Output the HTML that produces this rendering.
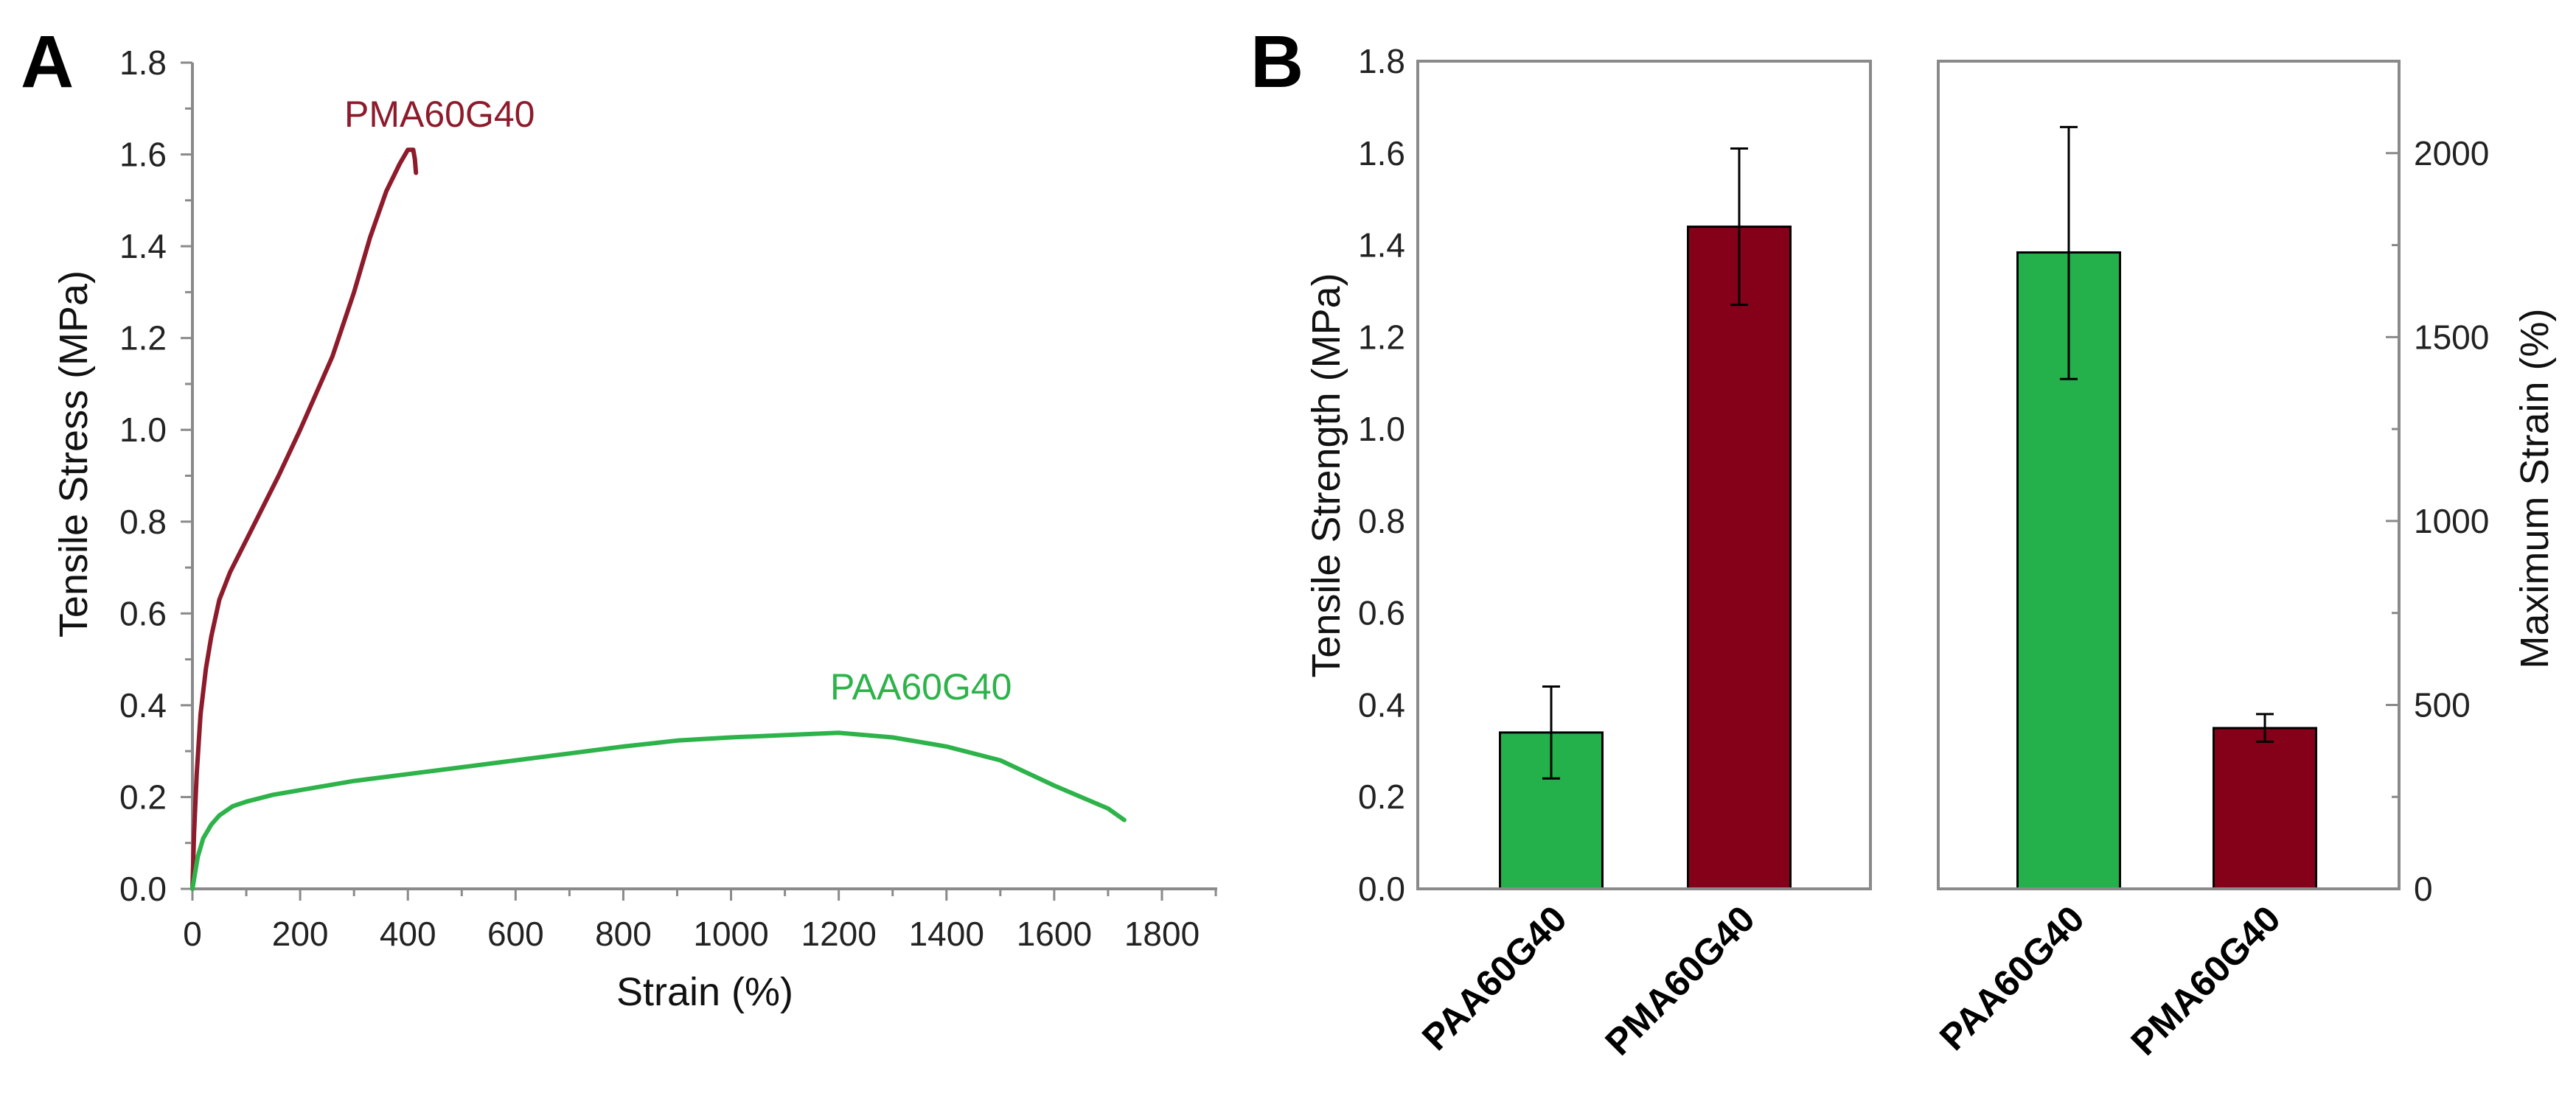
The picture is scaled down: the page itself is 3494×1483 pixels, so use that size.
<!DOCTYPE html>
<html><head><meta charset="utf-8"><style>
html,body{margin:0;padding:0;background:#fff;}
svg{display:block;}
text{font-family:"Liberation Sans",sans-serif;}
</style></head><body>
<svg id="fig" width="3494" height="1483" viewBox="0 0 3494 1483" xmlns="http://www.w3.org/2000/svg">
<g id="pa"></g>
<g id="pb"></g>
</svg>
<script>
// Panel A data
const pmaStrain = [0,3,8,15,25,35,50,70,100,130,160,200,230,260,300,330,360,385,400,410,413,415];
const pmaStress = [0,0.12,0.25,0.38,0.48,0.55,0.63,0.69,0.76,0.83,0.90,1.00,1.08,1.16,1.30,1.42,1.52,1.58,1.61,1.61,1.59,1.56];
const paaStrain = [0,10,20,35,50,75,100,150,200,300,400,500,600,700,800,900,1000,1100,1200,1300,1400,1500,1600,1700,1730];
const paaStress = [0,0.07,0.11,0.14,0.16,0.18,0.19,0.205,0.215,0.235,0.25,0.265,0.28,0.295,0.31,0.323,0.33,0.335,0.34,0.33,0.31,0.28,0.225,0.175,0.15];
const aXTicks = [0,200,400,600,800,1000,1200,1400,1600,1800];
const aYTicks = [0,0.2,0.4,0.6,0.8,1.0,1.2,1.4,1.6,1.8];
// Panel B data
const bCats = ["PAA60G40","PMA60G40"];
const strengthVals = [0.34,1.44];
const strengthLo = [0.24,1.27];
const strengthHi = [0.44,1.61];
const strainVals = [1730,437];
const strainLo = [1386,400];
const strainHi = [2071,475];
const bYTicksL = [0,0.2,0.4,0.6,0.8,1.0,1.2,1.4,1.6,1.8];
const bYTicksR = [0,500,1000,1500,2000];

const NS="http://www.w3.org/2000/svg";
function mk(parent,tag,attrs,txt){const e=document.createElementNS(NS,tag);for(const k in attrs)e.setAttribute(k,attrs[k]);if(txt!==undefined)e.textContent=txt;parent.appendChild(e);return e;}

const GREEN="#24b04b", RED="#850019", AXC="#8a8a8a";
const pa=document.getElementById('pa');
const ax0=261, ax1=1651, ay0=1206, ay1=85;
const ax=v=>ax0+v/1800*(1576-ax0);
const ay=v=>ay0-v/1.8*(ay0-ay1);
let t=mk(pa,'text',{x:28,y:118,'font-size':100,'font-weight':'bold',fill:'#000'},'A');

let l=mk(pa,'line',{x1:ax0,y1:ay1,x2:ax0,y2:ay0,stroke:AXC,'stroke-width':4});

l=mk(pa,'line',{x1:ax0-2,y1:ay0,x2:ax1,y2:ay0,stroke:AXC,'stroke-width':4});

for(let v=0;v<=1.8001;v+=0.1){const y=ay(v);const major=Math.round(v*10)%2===0;
 const tk=mk(pa,'line',{x1:ax0-(major?16:10),y1:y,x2:ax0,y2:y,stroke:AXC,'stroke-width':3});
 }
for(let v=0;v<=1900;v+=100){const x=ax(v);const major=v%200===0;
 const tk=mk(pa,'line',{x1:x,y1:ay0,x2:x,y2:ay0+(major?16:10),stroke:AXC,'stroke-width':3});
 }
aYTicks.forEach(v=>{const e=mk(pa,'text',{x:226,y:ay(v)+16,'font-size':46,'text-anchor':'end',fill:'#222'},v.toFixed(1));
 });
aXTicks.forEach(v=>{const e=mk(pa,'text',{x:ax(v),y:1283,'font-size':46,'text-anchor':'middle',fill:'#222'},String(v));
 });
t=mk(pa,'text',{x:0,y:0,'font-size':54,'text-anchor':'middle',fill:'#111',transform:'translate(118,616) rotate(-90)'},'Tensile Stress (MPa)');

t=mk(pa,'text',{x:956,y:1364,'font-size':54,'text-anchor':'middle',fill:'#111'},'Strain (%)');

function curve(xs,ys,col,name){let d='';xs.forEach((x,i)=>{d+=(i?'L':'M')+ax(x).toFixed(1)+','+ay(ys[i]).toFixed(1);});
 const p=mk(pa,'path',{d:d,fill:'none',stroke:col,'stroke-width':6,'stroke-linejoin':'round','stroke-linecap':'round'});
 }
curve(pmaStrain,pmaStress,"#8e1b2b",'pma-curve');
curve(paaStrain,paaStress,"#2db34a",'paa-curve');
t=mk(pa,'text',{x:467,y:172,'font-size':50,fill:'#8e1b2b'},'PMA60G40');

t=mk(pa,'text',{x:1126,y:949,'font-size':50,fill:'#2db34a'},'PAA60G40');


// Panel B
const pb=document.getElementById('pb');
t=mk(pb,'text',{x:1696,y:118,'font-size':100,'font-weight':'bold',fill:'#000'},'B');

const by0=1206, by1=83;
const byL=v=>by0-v/1.8*(by0-by1);
const byR=v=>by0-v/2250*(by0-by1);
const barW=139;
const leftCenters=[2104,2359], rightCenters=[2806,3072];
const cols=[GREEN,RED];
function bars(vals,lo,hi,centers,yf,pref){
 vals.forEach((v,i)=>{const c=centers[i];
  const r=mk(pb,'rect',{x:c-barW/2,y:yf(v),width:barW,height:by0-yf(v),fill:cols[i],stroke:'#000','stroke-width':3});
  
  const g=mk(pb,'path',{d:`M${c},${yf(lo[i])}V${yf(hi[i])}M${c-12},${yf(lo[i])}H${c+12}M${c-12},${yf(hi[i])}H${c+12}`,stroke:'#000','stroke-width':3,fill:'none'});
  });}
bars(strengthVals,strengthLo,strengthHi,leftCenters,byL,'strength');
bars(strainVals,strainLo,strainHi,rightCenters,byR,'strain');
let fr=mk(pb,'rect',{x:1923,y:by1,width:614,height:by0-by1,fill:'none',stroke:AXC,'stroke-width':4});

fr=mk(pb,'rect',{x:2629,y:by1,width:625,height:by0-by1,fill:'none',stroke:AXC,'stroke-width':4});

bYTicksL.forEach(v=>{const e=mk(pb,'text',{x:1906,y:byL(v)+16,'font-size':46,'text-anchor':'end',fill:'#222'},v.toFixed(1));
 });
for(let v=250;v<=2000;v+=250){const y=byR(v);const major=v%500===0;
 const tk=mk(pb,'line',{x1:3254-(major?18:10),y1:y,x2:3254,y2:y,stroke:AXC,'stroke-width':3});
 }
bYTicksR.forEach(v=>{const e=mk(pb,'text',{x:3274,y:byR(v)+16,'font-size':46,fill:'#222'},String(v));
 });
t=mk(pb,'text',{x:0,y:0,'font-size':54,'text-anchor':'middle',fill:'#111',transform:'translate(1817,645) rotate(-90)'},'Tensile Strength (MPa)');

t=mk(pb,'text',{x:0,y:0,'font-size':54,'text-anchor':'middle',fill:'#111',transform:'translate(3456,663) rotate(-90)'},'Maximum Strain (%)');

[leftCenters,rightCenters].forEach(cs=>{cs.forEach((c,i)=>{
 const e=mk(pb,'text',{x:0,y:0,'font-size':50,'font-weight':'bold','text-anchor':'end',fill:'#000',transform:`translate(${c+24},${1250}) rotate(-45)`},bCats[i]);
 });});
</script>
</body></html>
